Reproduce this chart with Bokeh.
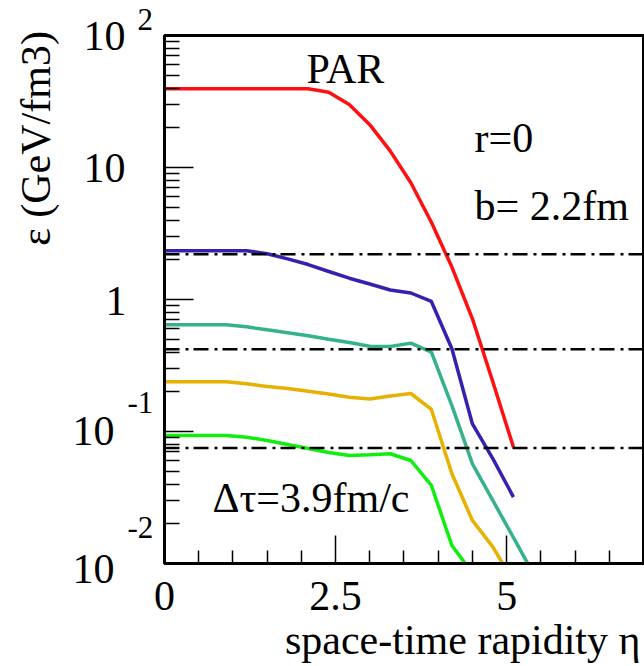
import numpy as np
from bokeh.plotting import figure
from bokeh.models import Range1d, FixedTicker, LinearAxis, LogAxis
from bokeh.core.properties import value
from bokeh.embed import file_html
from bokeh.resources import INLINE

# ---- data ----
eta = [0.0, 0.3, 0.6, 0.9, 1.2, 1.5, 1.8, 2.1, 2.4, 2.7, 3.0, 3.3, 3.6, 3.9,
       4.2, 4.5, 4.8, 5.1, 5.4]

eps_red = [39.5, 39.5, 39.5, 39.5, 39.5, 39.5, 39.5, 39.5, 37.2, 30.0, 21.1,
           13.3, 7.66, 3.85, 1.76, 0.714, 0.236, 0.076]
eps_blue = [2.34, 2.34, 2.34, 2.34, 2.34, 2.22, 2.03, 1.84, 1.63, 1.45, 1.31,
            1.18, 1.12, 0.966, 0.423, 0.114, 0.0621, 0.0318]
eps_teal = [0.643, 0.643, 0.643, 0.643, 0.621, 0.589, 0.560, 0.531, 0.500,
            0.472, 0.443, 0.440, 0.467, 0.399, 0.157, 0.0569, 0.0299, 0.0157,
            0.0082]
eps_orange = [0.238, 0.238, 0.238, 0.238, 0.230, 0.219, 0.212, 0.202, 0.192,
              0.182, 0.176, 0.186, 0.194, 0.147, 0.0478, 0.0212, 0.0133,
              0.00726]
eps_green = [0.0933, 0.0933, 0.0933, 0.0933, 0.0906, 0.0855, 0.0798, 0.0744,
             0.0693, 0.0658, 0.0666, 0.0678, 0.0603, 0.0390, 0.0137, 0.00846]

thresholds = [2.2, 0.42, 0.075]

X_LIM = (0, 7)
Y_LIM = (0.01, 100)
x_major = [0, 2.5, 5]
x_minor = [0.5, 1.0, 1.5, 2.0, 3.0, 3.5, 4.0, 4.5, 5.5, 6.0, 6.5]
y_major = [0.01, 0.1, 1, 10, 100]
y_minor = [m * d for d in [0.01, 0.1, 1, 10] for m in range(2, 10)]
y_tick_base = ["10", "10", "1", "10", "10"]       # for 100, 10, 1, 0.1, 0.01
y_tick_exp = ["2", "", "", "-1", "-2"]

series = [
    (eps_red, "#ff1010"),
    (eps_blue, "#3520b0"),
    (eps_teal, "#35b386"),
    (eps_orange, "#e8b000"),
    (eps_green, "#10ee10"),
]

FONT = "Liberation Serif"

# The frame fills the whole canvas; the plot box is drawn at X_LIM x Y_LIM
p = figure(width=644, height=666,
           x_range=Range1d(-2.3966, 7.0146),
           y_range=Range1d(0.0016584, 184.11), y_axis_type="log",
           x_axis_location=None, y_axis_location=None,
           output_backend="svg", toolbar_location=None, min_border=0)
p.background_fill_color = "white"
p.border_fill_color = "white"
p.outline_line_color = None
p.grid.visible = False

# curves
for ys, col in series:
    p.line(eta[:len(ys)], ys, line_color=col, line_width=3.5)

# hide the parts of the curves that fall below the plot box
p.quad(left=[X_LIM[0]], right=[X_LIM[1] + 0.01], bottom=[0.0015],
       top=[Y_LIM[0]], fill_color="white", line_color=None)

# threshold lines
p.segment(x0=[X_LIM[0]] * 3, x1=[X_LIM[1]] * 3, y0=thresholds,
          y1=thresholds, line_color="black", line_width=2.5,
          line_dash="15 6 3 5")

# box
p.quad(left=[X_LIM[0]], right=[X_LIM[1]], bottom=[Y_LIM[0]], top=[Y_LIM[1]],
       fill_color=None, line_color="black", line_width=3)

# axes
xa = LinearAxis(fixed_location=Y_LIM[0], bounds=X_LIM,
                ticker=FixedTicker(ticks=x_major, minor_ticks=x_minor))
xa.major_tick_in = 28
xa.major_tick_out = 0
xa.minor_tick_in = 13
xa.minor_tick_out = 0
xa.axis_line_color = None
xa.major_tick_line_color = "black"
xa.minor_tick_line_color = "black"
xa.major_tick_line_width = 1.5
xa.minor_tick_line_width = 1.5
xa.major_label_text_font = FONT
xa.major_label_text_font_size = "42px"
xa.major_label_text_color = "black"
xa.major_label_standoff = 19
xa.major_label_overrides = {0: "0", 2.5: "2.5", 5: "5"}
p.add_layout(xa, "below")

ya = LogAxis(fixed_location=X_LIM[0], bounds=Y_LIM,
             ticker=FixedTicker(ticks=y_major, minor_ticks=y_minor))
ya.major_tick_in = 29
ya.major_tick_out = 0
ya.minor_tick_in = 15
ya.minor_tick_out = 0
ya.axis_line_color = None
ya.major_tick_line_color = "black"
ya.minor_tick_line_color = "black"
ya.major_tick_line_width = 1.5
ya.minor_tick_line_width = 1.5
ya.major_label_overrides = {v: "" for v in y_major}
ya.major_label_text_alpha = 0
p.add_layout(ya, "left")

# y tick labels in ROOT style: "10" with a raised exponent
p.text(x=[-0.570, -0.570, -0.555, -0.731, -0.731],
       y=[99.5, 9.83, 0.966, 0.100, 0.00916],
       text=y_tick_base, text_font=value(FONT), text_font_size="42px",
       text_align="right", text_baseline="alphabetic", text_color="black")
p.text(x=[-0.395, -0.541, -0.541], y=[132.2, 0.1658, 0.01874],
       text=[e for e in y_tick_exp if e], text_font=value(FONT),
       text_font_size="31px", text_align="left",
       text_baseline="alphabetic", text_color="black")

# axis titles
p.text(x=[-1.885], y=[16.59], text=["ε (GeV/fm3)"], angle=np.pi / 2,
       text_font=value(FONT), text_font_size="42px", text_align="center",
       text_baseline="middle", text_color="black")
p.text(x=[6.956], y=[0.002655], text=["space-time rapidity η"],
       text_font=value(FONT), text_font_size="42px", text_align="right",
       text_baseline="alphabetic", text_color="black")

# annotations in the box
p.text(x=[2.075, 4.53, 4.53, 0.70], y=[55.3, 16.6, 5.07, 0.0313],
       text=["PAR", "r=0", "b= 2.2fm", "Δτ=3.9fm/c"],
       text_font=value(FONT), text_font_size="42px", text_align="left",
       text_baseline="alphabetic", text_color="black")

open("out.html", "w").write(file_html(p, INLINE))
